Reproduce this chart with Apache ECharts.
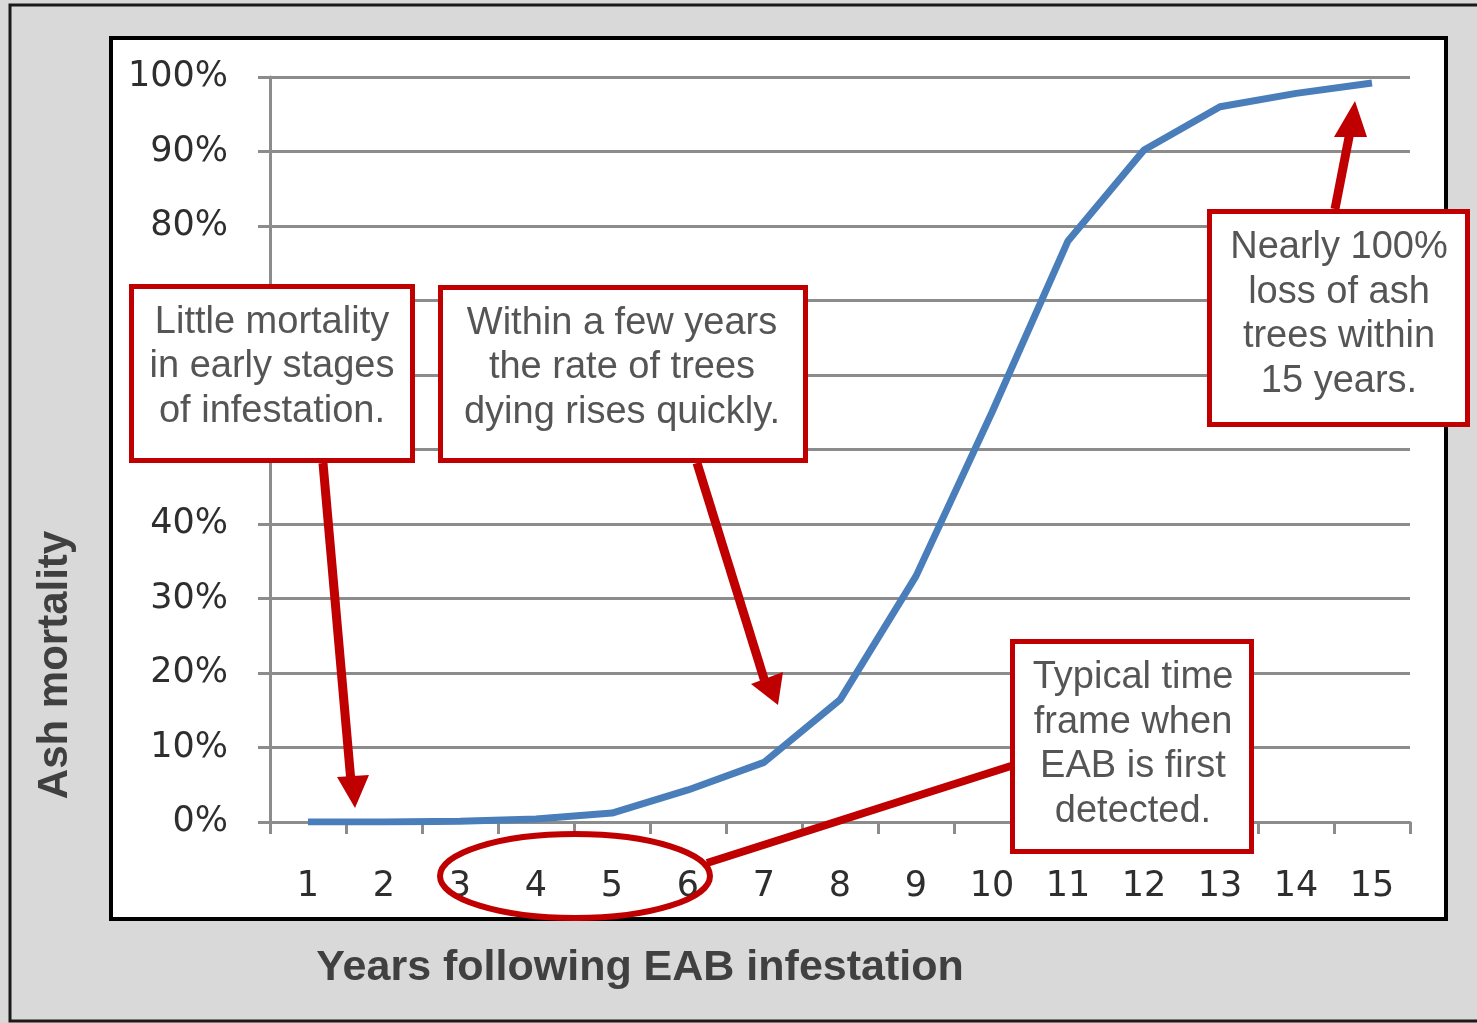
<!DOCTYPE html>
<html>
<head>
<meta charset="utf-8">
<script src="https://cdn.jsdelivr.net/npm/echarts@6/dist/echarts.min.js"></script>
<style>
html,body{margin:0;padding:0;background:#fff;}
#chart{width:1477px;height:1023px;}
</style>
</head>
<body>
<div id="chart"></div>
<script>
const years = ['1','2','3','4','5','6','7','8','9','10','11','12','13','14','15'];
const mortality = [0, 0, 0.1, 0.4, 1.2, 4.3, 8, 16.4, 33, 55, 78, 90.2, 96, 97.8, 99.2];
const yTicks = [0, 10, 20, 30, 40, 50, 60, 70, 80, 90, 100];
const xTitle = 'Years following EAB infestation';
const yTitle = 'Ash mortality';
const notes = [
  'Little mortality\nin early stages\nof infestation.',
  'Within a few years\nthe rate of trees\ndying rises quickly.',
  'Nearly 100%\nloss of ash\ntrees within\n15 years.',
  'Typical time\nframe when\nEAB is first\ndetected.'
];

const RED = '#c00000';
const noteFont = '38px "Liberation Sans", Arial, sans-serif';

function box(x, y, w, h) {
  return { type: 'rect', z: 50, shape: { x: x, y: y, width: w, height: h },
    style: { fill: '#ffffff', stroke: RED, lineWidth: 5 } };
}
function note(text, x, y) {
  return { type: 'text', z: 51, style: { text: text, x: x, y: y, fill: '#555555',
    font: noteFont, align: 'center', verticalAlign: 'middle', textAlign: 'center', textVerticalAlign: 'middle', lineHeight: 44.5 } };
}
function shaft(x1, y1, x2, y2, w) {
  return { type: 'line', z: 52, shape: { x1: x1, y1: y1, x2: x2, y2: y2 },
    style: { stroke: RED, lineWidth: w || 9 } };
}
function head(pts) {
  return { type: 'polygon', z: 52, shape: { points: pts }, style: { fill: RED } };
}

const chart = echarts.init(document.getElementById('chart'));
chart.setOption({
  backgroundColor: '#d9d9d9',
  animation: false,
  grid: { left: 270, right: 67, top: 77, bottom: 201, containLabel: false },
  xAxis: {
    type: 'category',
    data: years,
    boundaryGap: true,
    axisLine: { show: true, lineStyle: { color: '#8c8c8c', width: 3 } },
    axisTick: { show: true, length: 12, lineStyle: { color: '#8c8c8c', width: 3 } },
    axisLabel: { margin: 47, fontSize: 35, fontFamily: '"DejaVu Sans", Verdana, sans-serif', color: '#2e2e2e' },
    splitLine: { show: false }
  },
  yAxis: {
    type: 'value',
    min: yTicks[0],
    max: yTicks[yTicks.length - 1],
    interval: yTicks[1] - yTicks[0],
    axisLine: { show: true, lineStyle: { color: '#8c8c8c', width: 3 } },
    axisTick: { show: true, length: 12, lineStyle: { color: '#8c8c8c', width: 3 } },
    axisLabel: { margin: 42, fontSize: 35, fontFamily: '"DejaVu Sans", Verdana, sans-serif', color: '#2e2e2e',
      formatter: '{value}%', padding: [12, 0, 0, 0] },
    splitLine: { show: true, lineStyle: { color: '#8c8c8c', width: 3 } }
  },
  series: [{
    type: 'line',
    data: mortality,
    symbol: 'none',
    smooth: false,
    lineStyle: { color: '#4a7ebb', width: 7 },
    z: 5
  }],
  graphic: [
    { type: 'rect', z: -20, shape: { x: 10, y: 5, width: 1500, height: 1016 },
      style: { fill: '#d9d9d9', stroke: '#1a1a1a', lineWidth: 3 } },
    { type: 'rect', z: -10, shape: { x: 111, y: 38, width: 1335, height: 881 },
      style: { fill: '#ffffff', stroke: '#000000', lineWidth: 4 } },
    { type: 'text', z: 60, rotation: Math.PI / 2, x: 55, y: 665,
      style: { text: yTitle, x: 0, y: 0, fill: '#404040', font: 'bold 42px "Liberation Sans", Arial, sans-serif',
        align: 'center', verticalAlign: 'middle', textAlign: 'center', textVerticalAlign: 'middle' } },
    { type: 'text', z: 60,
      style: { text: xTitle, x: 640, y: 968, fill: '#404040', font: 'bold 43px "Liberation Sans", Arial, sans-serif',
        align: 'center', verticalAlign: 'middle', textAlign: 'center', textVerticalAlign: 'middle' } },

    box(131.5, 286.5, 281, 174), note(notes[0], 272, 367),
    box(440.5, 287.5, 365, 173), note(notes[1], 622, 368),
    box(1209.5, 211.5, 258, 213), note(notes[2], 1339, 314.5),
    box(1012.5, 641.5, 239, 210), note(notes[3], 1133, 744.5),

    shaft(323, 463, 351, 782), head([[337, 777], [369, 775], [355, 808]]),
    shaft(697, 463, 765, 682), head([[751, 684], [783, 672], [778, 705]]),
    shaft(1335, 209, 1350, 132), head([[1334, 137], [1367, 137], [1355, 101]]),
    shaft(1011, 766, 707, 863, 8),
    { type: 'ellipse', z: 52, shape: { cx: 575, cy: 876, rx: 135, ry: 42 },
      style: { fill: 'none', stroke: RED, lineWidth: 6 } }
  ]
});
</script>
</body>
</html>
